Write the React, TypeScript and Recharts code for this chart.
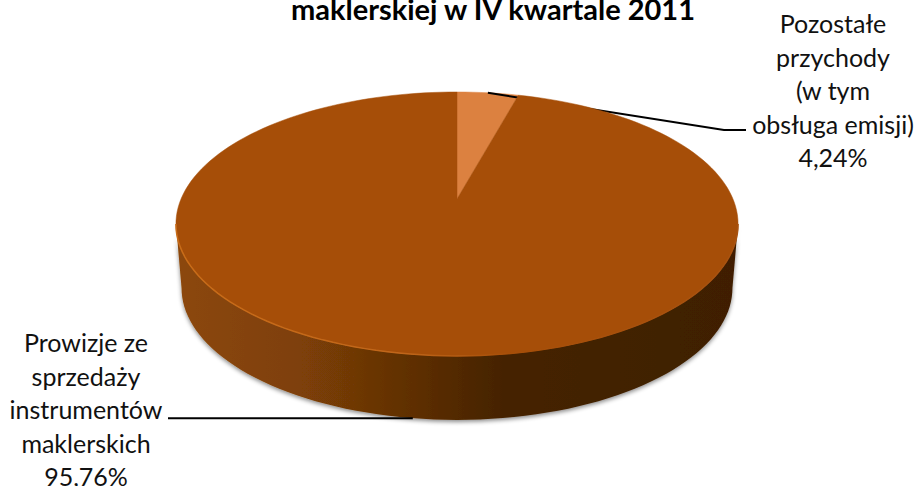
import { Pie, PieChart } from 'recharts';

const sliceNames = ['Pozostałe przychody (w tym obsługa emisji)', 'Prowizje ze sprzedaży instrumentów maklerskich'];
const sliceValues = [4.24, 95.76];
const sliceColors = ['#dc8140', '#a64e08'];
const titleLine = 'maklerskiej w IV kwartale 2011';
const upperLabel = ['Pozostałe', 'przychody', '(w tym', 'obsługa emisji)', '4,24%'];
const lowerLabel = ['Prowizje ze', 'sprzedaży', 'instrumentów', 'maklerskich', '95,76%'];

const chartData = sliceNames.map((name, i) => ({ name, value: sliceValues[i] }));

const FONT = 'Lato, "Open Sans", sans-serif';
const TILT = 0.461;
const PERSPECTIVE = 0.189;
const DEPTH = 64;
const BOTTOM_SHRINK = 0.98;
const EDGE_DEG = (Math.asin(PERSPECTIVE) * 180) / Math.PI;

// tilted disc: recharts gives the flat angle, this projects it to the screen
function project(cx: number, cy: number, r: number, deg: number) {
  const a = (deg * Math.PI) / 180;
  const w = 1 + PERSPECTIVE * Math.sin(a);
  return {
    x: cx + (r * Math.cos(a)) / w,
    y: cy - (r * TILT * Math.sin(a)) / w,
  };
}

function arcPoints(cx: number, cy: number, r: number, from: number, to: number) {
  const steps = Math.max(2, Math.ceil(Math.abs(to - from) / 2));
  const pts = [];
  for (let i = 0; i <= steps; i++) {
    pts.push(project(cx, cy, r, from + ((to - from) * i) / steps));
  }
  return pts;
}

const toPath = (pts: { x: number; y: number }[]) =>
  pts.map((p, i) => `${i ? 'L' : 'M'}${p.x.toFixed(2)},${p.y.toFixed(2)}`).join(' ');

function TopSlice(props: any) {
  const { cx, cy, outerRadius, startAngle, endAngle, fill } = props;
  const pts = arcPoints(cx, cy, outerRadius, startAngle, endAngle);
  const isFront = Math.abs(endAngle - startAngle) > 180;
  return (
    <g>
      <path d={`M${cx},${cy} ${toPath(pts).replace('M', 'L')} Z`} fill={fill} stroke={fill} strokeWidth={0.5} />
      {isFront && (
        <path
          d={toPath(arcPoints(cx, cy, outerRadius, -180 + EDGE_DEG, -EDGE_DEG))}
          fill="none"
          stroke="url(#rimStroke)"
          strokeWidth={1.5}
        />
      )}
    </g>
  );
}

function WallSlice(props: any) {
  const { cx, cy, outerRadius, startAngle, endAngle } = props;
  if (Math.abs(endAngle - startAngle) < 180) return <g />;
  const top = arcPoints(cx, cy, outerRadius, -EDGE_DEG, -180 + EDGE_DEG);
  const bottom = top
    .map((p) => ({ x: cx + (p.x - cx) * BOTTOM_SHRINK, y: p.y + DEPTH }))
    .reverse();
  return <path d={toPath([...top, ...bottom]) + ' Z'} fill="url(#wallFill)" filter="url(#wallShadow)" />;
}

function Leaders(props: any) {
  const { cx, cy, outerRadius, startAngle, endAngle, index } = props;
  const mid = (startAngle + endAngle) / 2;
  const p = project(cx, cy, outerRadius, mid);
  if (index === 0) {
    return (
      <g>
        <TopSlice {...props} />
        <polyline points={`${p.x},${p.y} 724,130 746,130`} fill="none" stroke="#000" strokeWidth={2} />
      </g>
    );
  }
  const x = cx + (p.x - cx) * BOTTOM_SHRINK;
  return (
    <g>
      <TopSlice {...props} />
      <polyline points={`${x},${p.y + DEPTH} 168,${p.y + DEPTH}`} fill="none" stroke="#000" strokeWidth={2} />
    </g>
  );
}

function LabelBlock({ lines, x, y }: { lines: string[]; x: number; y: number }) {
  return (
    <text x={x} y={y} textAnchor="middle" fontFamily={FONT} fontSize={25} fill="#111">
      {lines.map((line, i) => (
        <tspan key={line} x={x} dy={i ? 33.5 : 0}>
          {line}
        </tspan>
      ))}
    </text>
  );
}

export default function App() {
  return (
    <div style={{ position: 'absolute', left: 0, top: 0, width: 920, height: 486, background: '#fff' }}>
      <PieChart width={920} height={486} margin={{ top: 0, right: 0, bottom: 0, left: 0 }}>
        <defs>
          <linearGradient id="wallFill" x1="0" y1="0" x2="1" y2="0">
            <stop offset="0%" stopColor="#8c4708" />
            <stop offset="22%" stopColor="#7e4007" />
            <stop offset="42%" stopColor="#5f2f05" />
            <stop offset="58%" stopColor="#452302" />
            <stop offset="100%" stopColor="#3f1f02" />
          </linearGradient>
          <linearGradient id="rimStroke" x1="0" y1="0" x2="1" y2="0">
            <stop offset="0%" stopColor="#c96c18" />
            <stop offset="40%" stopColor="#c0661a" />
            <stop offset="60%" stopColor="#a64e08" />
            <stop offset="100%" stopColor="#a85210" />
          </linearGradient>
          <filter id="wallShadow" x="-5%" y="-5%" width="110%" height="115%">
            <feDropShadow dx="0" dy="2" stdDeviation="2" floodColor="#000" floodOpacity="0.45" />
          </filter>
        </defs>
        <Pie
          data={chartData}
          dataKey="value"
          nameKey="name"
          cx={457}
          cy={199}
          outerRadius={276}
          startAngle={90}
          endAngle={-270}
          stroke="none"
          isAnimationActive={false}
          shape={WallSlice}
        />
        <Pie
          data={chartData.map((d, i) => ({ ...d, fill: sliceColors[i] }))}
          dataKey="value"
          nameKey="name"
          cx={457}
          cy={199}
          outerRadius={276}
          startAngle={90}
          endAngle={-270}
          stroke="none"
          isAnimationActive={false}
          shape={Leaders}
        />
        <text x={493} y={20} textAnchor="middle" fontFamily={FONT} fontWeight={700} fontSize={29} fill="#000">
          {titleLine}
        </text>
        <LabelBlock lines={upperLabel} x={833} y={33} />
        <LabelBlock lines={lowerLabel} x={86} y={352} />
      </PieChart>
    </div>
  );
}
